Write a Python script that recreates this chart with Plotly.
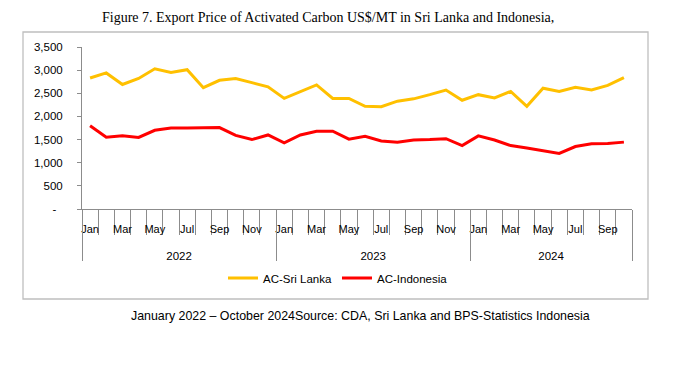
import plotly.graph_objects as go

months = ["Jan", "Feb", "Mar", "Apr", "May", "Jun", "Jul", "Aug", "Sep", "Oct", "Nov", "Dec"]
years = ["2022", "2023", "2024"]
month_counts = [12, 12, 10]

sri_lanka = [2830, 2940, 2690, 2820, 3030, 2950, 3010, 2620, 2780, 2820, 2730, 2640,
             2390, 2540, 2680, 2390, 2390, 2220, 2210, 2330, 2380, 2470, 2570, 2350,
             2470, 2400, 2540, 2220, 2610, 2540, 2630, 2570, 2670, 2840]
indonesia = [1800, 1550, 1580, 1545, 1700, 1750, 1750, 1750, 1760, 1590, 1500, 1600,
             1430, 1600, 1680, 1680, 1510, 1570, 1470, 1440, 1490, 1500, 1520, 1370,
             1580, 1490, 1370, 1320, 1260, 1200, 1350, 1410, 1415, 1445]

y_ticks = [0, 500, 1000, 1500, 2000, 2500, 3000, 3500]
y_text = ["-\u00a0\u00a0" if v == 0 else f"{v:,}" for v in y_ticks]

# category positions
labels = []
for yi, cnt in enumerate(month_counts):
    for m in range(cnt):
        labels.append(months[m] if m % 2 == 0 else "")
n = len(labels)
xs = list(range(n))
bounds = [i - 0.5 for i in range(n + 1)]
year_bounds = [-0.5]
year_centers = []
start = 0
for cnt in month_counts:
    year_centers.append(start + (cnt - 1) / 2)
    start += cnt
    year_bounds.append(start - 0.5)

AX = "#8C8C8C"
FONT = "Liberation Sans, Arial, sans-serif"
rng = [-0.5, n - 0.5]

# page offset (browser body margin)
O = 8
W, H = 681, 372
PL, PT, PW, PH = 82 - O, 47 - O, 550, 162  # plot area in figure pixels


def px(xref):
    return (xref - O - PL) / PW


def py(yref):
    return (PT + PH - (yref - O)) / PH


fig = go.Figure()
fig.add_trace(go.Scatter(x=xs, y=sri_lanka, mode="lines", name="AC-Sri Lanka",
                         line=dict(color="#FFC000", width=3), xaxis="x", yaxis="y"))
fig.add_trace(go.Scatter(x=xs, y=indonesia, mode="lines", name="AC-Indonesia",
                         line=dict(color="#FF0000", width=3), xaxis="x", yaxis="y"))
for ax in ["x2", "x3", "x4"]:
    fig.add_trace(go.Scatter(x=xs, y=[None] * n, mode="lines", showlegend=False,
                             hoverinfo="skip", xaxis=ax, yaxis="y"))

fig.update_layout(
    width=W, height=H, autosize=False,
    margin=dict(l=PL, r=W - PL - PW, t=PT, b=H - PT - PH, autoexpand=False),
    paper_bgcolor="white", plot_bgcolor="white",
    font=dict(family=FONT, size=11, color="#000000"),
    showlegend=True,
    legend=dict(orientation="h", xref="container", yref="container",
                x=(338 - O) / W, xanchor="center", y=1 - (278 - O) / H, yanchor="middle",
                font=dict(size=11.5), bgcolor="rgba(0,0,0,0)", itemwidth=30,
                tracegroupgap=0),
    xaxis=dict(range=rng, tickmode="array", tickvals=bounds, showticklabels=False,
               ticks="outside", ticklen=25, tickcolor=AX, tickwidth=1,
               showline=True, linecolor=AX, linewidth=1, showgrid=False, zeroline=False,
               fixedrange=True, automargin=False),
    xaxis2=dict(range=rng, overlaying="x", anchor="y", side="bottom", tickmode="array",
                tickvals=xs, ticktext=labels, ticks="outside", ticklen=10,
                tickcolor="rgba(0,0,0,0)", showline=False, showgrid=False, zeroline=False,
                tickfont=dict(size=11), tickangle=0, automargin=False),
    xaxis3=dict(range=rng, overlaying="x", anchor="y", side="bottom", tickmode="array",
                tickvals=year_bounds, showticklabels=False, ticks="outside", ticklen=51,
                tickcolor=AX, tickwidth=1, showline=False, showgrid=False, zeroline=False,
                automargin=False),
    xaxis4=dict(range=rng, overlaying="x", anchor="y", side="bottom", tickmode="array",
                tickvals=year_centers, ticktext=years, ticks="outside", ticklen=36,
                tickcolor="rgba(0,0,0,0)", showline=False, showgrid=False, zeroline=False,
                tickfont=dict(size=11.5), tickangle=0, automargin=False),
    yaxis=dict(range=[0, 3500], tickmode="array", tickvals=y_ticks, ticktext=y_text,
               ticks="outside", ticklen=4, tickcolor=AX, showline=True, linecolor=AX,
               linewidth=1, showgrid=False, zeroline=False, ticklabelstandoff=12,
               tickfont=dict(size=11.5), fixedrange=True, automargin=False),
)

# chart border
fig.add_shape(type="rect", xref="paper", yref="paper",
              x0=px(23), x1=px(648), y0=py(299), y1=py(32),
              line=dict(color="#BFBFBF", width=1.3), fillcolor="rgba(0,0,0,0)", layer="below")

fig.add_annotation(text="Figure 7. Export Price of Activated Carbon US$/MT in Sri Lanka and Indonesia,",
                   xref="paper", yref="paper", x=px(328), y=py(17),
                   xanchor="center", yanchor="middle", showarrow=False,
                   font=dict(family="Liberation Serif, Times New Roman, serif", size=14, color="#000000"))
fig.add_annotation(text="January 2022 \u2013 October 2024Source: CDA, Sri Lanka and BPS-Statistics Indonesia",
                   xref="paper", yref="paper", x=px(360), y=py(316),
                   xanchor="center", yanchor="middle", showarrow=False,
                   font=dict(family=FONT, size=12.4, color="#000000"))

fig.write_html("out.html")
